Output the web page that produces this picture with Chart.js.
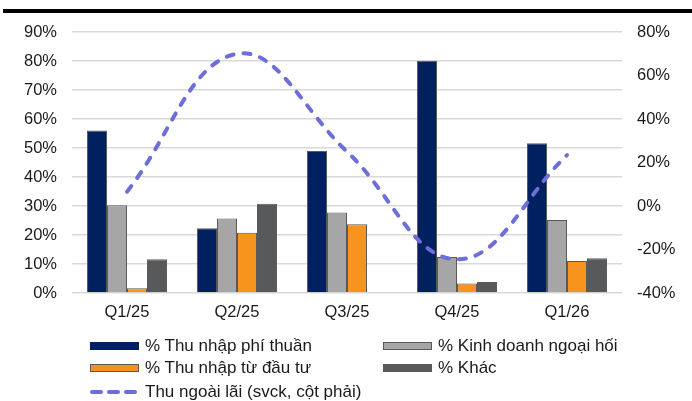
<!DOCTYPE html>
<html lang="vi">
<head>
<meta charset="utf-8">
<script src="https://cdn.jsdelivr.net/npm/chart.js@4"></script>
<style>
  html, body { margin: 0; padding: 0; background: #fff; }
  body { width: 692px; height: 401px; position: relative; overflow: hidden;
         font-family: "Liberation Sans", Arial, sans-serif; color: #1a1a1a; }
  .topbar { position: absolute; left: 3px; top: 9px; width: 689px; height: 4px; background: #000; }
  .wrap { position: absolute; left: 0; top: 0; width: 692px; height: 330px; }
  .legend { position: absolute; left: 0; top: 0; width: 692px; height: 401px; pointer-events: none; }
  .item { position: absolute; display: flex; align-items: center; font-size: 17px; white-space: nowrap; }
  .sw { width: 49px; height: 8px; box-sizing: border-box; margin-right: 6px; }
</style>
</head>
<body>
<div class="topbar"></div>
<div class="wrap"><canvas id="c" width="692" height="330"></canvas></div>
<div class="legend" id="legend"></div>
<script>
// Quarters and the share of each non-interest income component (%)
const categories = ["Q1/25", "Q2/25", "Q3/25", "Q4/25", "Q1/26"];
const feeIncome   = [56, 22.3, 49, 80.1, 51.6];   // % Thu nhập phí thuần
const fxTrading   = [30.3, 25.7, 27.8, 12.4, 25.2]; // % Kinh doanh ngoại hối
const investIncome = [1.6, 20.8, 23.7, 3.3, 11];  // % Thu nhập từ đầu tư
const otherIncome = [11.6, 30.8, 0, 3.8, 12];     // % Khác
// Non-interest income growth YoY, right axis (%)
const nonInterestYoY = [6.6, 70, 25, -24.5, 23.4];

const leftTicks = [0, 10, 20, 30, 40, 50, 60, 70, 80, 90];
const rightTicks = [-40, -20, 0, 20, 40, 60, 80];

const names = {
  fee: "% Thu nhập phí thuần",
  fx: "% Kinh doanh ngoại hối",
  inv: "% Thu nhập từ đầu tư",
  other: "% Khác",
  line: "Thu ngoài lãi (svck, cột phải)"
};

const colors = {
  fee: "#002060",
  fx: "#A6A6A6",
  inv: "#F7941D",
  other: "#58595B",
  edge: "#595959",
  line: "#6E6ED8",
  grid: "#D9D9D9",
  text: "#1a1a1a"
};

const FONT = { family: "'Liberation Sans', Arial, sans-serif", size: 16.5 };

function bar(label, data, fill) {
  return {
    type: "bar", label, data, yAxisID: "yL", order: 1,
    backgroundColor: fill, borderColor: colors.edge, borderWidth: 1,
    borderSkipped: "start",
    categoryPercentage: 0.727, barPercentage: 1
  };
}

new Chart(document.getElementById("c"), {
  data: {
    labels: categories,
    datasets: [
      {
        type: "line", label: names.line, data: nonInterestYoY, yAxisID: "yR", order: 0,
        borderColor: colors.line, borderWidth: 4, borderDash: [7, 10],
        borderCapStyle: "round", tension: 0.4, pointRadius: 0, fill: false
      },
      bar(names.fee, feeIncome, colors.fee),
      bar(names.fx, fxTrading, colors.fx),
      bar(names.inv, investIncome, colors.inv),
      bar(names.other, otherIncome, colors.other)
    ]
  },
  options: {
    responsive: false,
    animation: false,
    layout: { padding: { top: 32, left: 0, right: 0, bottom: 0 } },
    plugins: { legend: { display: false }, tooltip: { enabled: false } },
    scales: {
      x: {
        grid: { display: false, drawTicks: false },
        border: { display: false },
        ticks: { color: colors.text, font: FONT, padding: 10 },
        afterFit(s) { s.height = 37; }
      },
      yL: {
        position: "left", min: 0, max: 90,
        afterBuildTicks(s) { s.ticks = leftTicks.map(v => ({ value: v })); },
        grid: { color: colors.grid, lineWidth: 1.5, drawTicks: false },
        border: { display: false },
        ticks: { color: colors.text, font: FONT, padding: 15, callback: v => v + "%" },
        afterFit(s) { s.width = 72; }
      },
      yR: {
        position: "right", min: -40, max: 80,
        afterBuildTicks(s) { s.ticks = rightTicks.map(v => ({ value: v })); },
        grid: { display: false, drawTicks: false },
        border: { display: false },
        ticks: { color: colors.text, font: FONT, padding: 15, callback: v => v + "%" },
        afterFit(s) { s.width = 70; }
      }
    }
  }
});

// Legend: two columns of bar swatches, then the dashed line entry
const legendItems = [
  { key: "fee", x: 90, y: 346, border: false },
  { key: "fx", x: 383, y: 346, border: true },
  { key: "inv", x: 90, y: 368, border: true },
  { key: "other", x: 383, y: 368, border: false },
  { key: "line", x: 90, y: 392 }
];
const legend = document.getElementById("legend");
legendItems.forEach(it => {
  const el = document.createElement("div");
  el.className = "item";
  el.style.left = it.x + "px";
  el.style.top = (it.y - 10) + "px";
  el.style.height = "20px";
  let sw;
  if (it.key === "line") {
    sw = document.createElementNS("http://www.w3.org/2000/svg", "svg");
    sw.setAttribute("width", "49"); sw.setAttribute("height", "8");
    sw.style.marginRight = "6px";
    const ln = document.createElementNS("http://www.w3.org/2000/svg", "line");
    ln.setAttribute("x1", "2"); ln.setAttribute("x2", "48");
    ln.setAttribute("y1", "4"); ln.setAttribute("y2", "4");
    ln.setAttribute("stroke", colors.line); ln.setAttribute("stroke-width", "4");
    ln.setAttribute("stroke-linecap", "round");
    ln.setAttribute("stroke-dasharray", "9 8");
    sw.appendChild(ln);
  } else {
    sw = document.createElement("div");
    sw.className = "sw";
    sw.style.background = colors[it.key];
    if (it.border) sw.style.border = "1.5px solid " + colors.edge;
  }
  const tx = document.createElement("span");
  tx.textContent = names[it.key];
  el.appendChild(sw); el.appendChild(tx);
  legend.appendChild(el);
});
</script>
</body>
</html>
